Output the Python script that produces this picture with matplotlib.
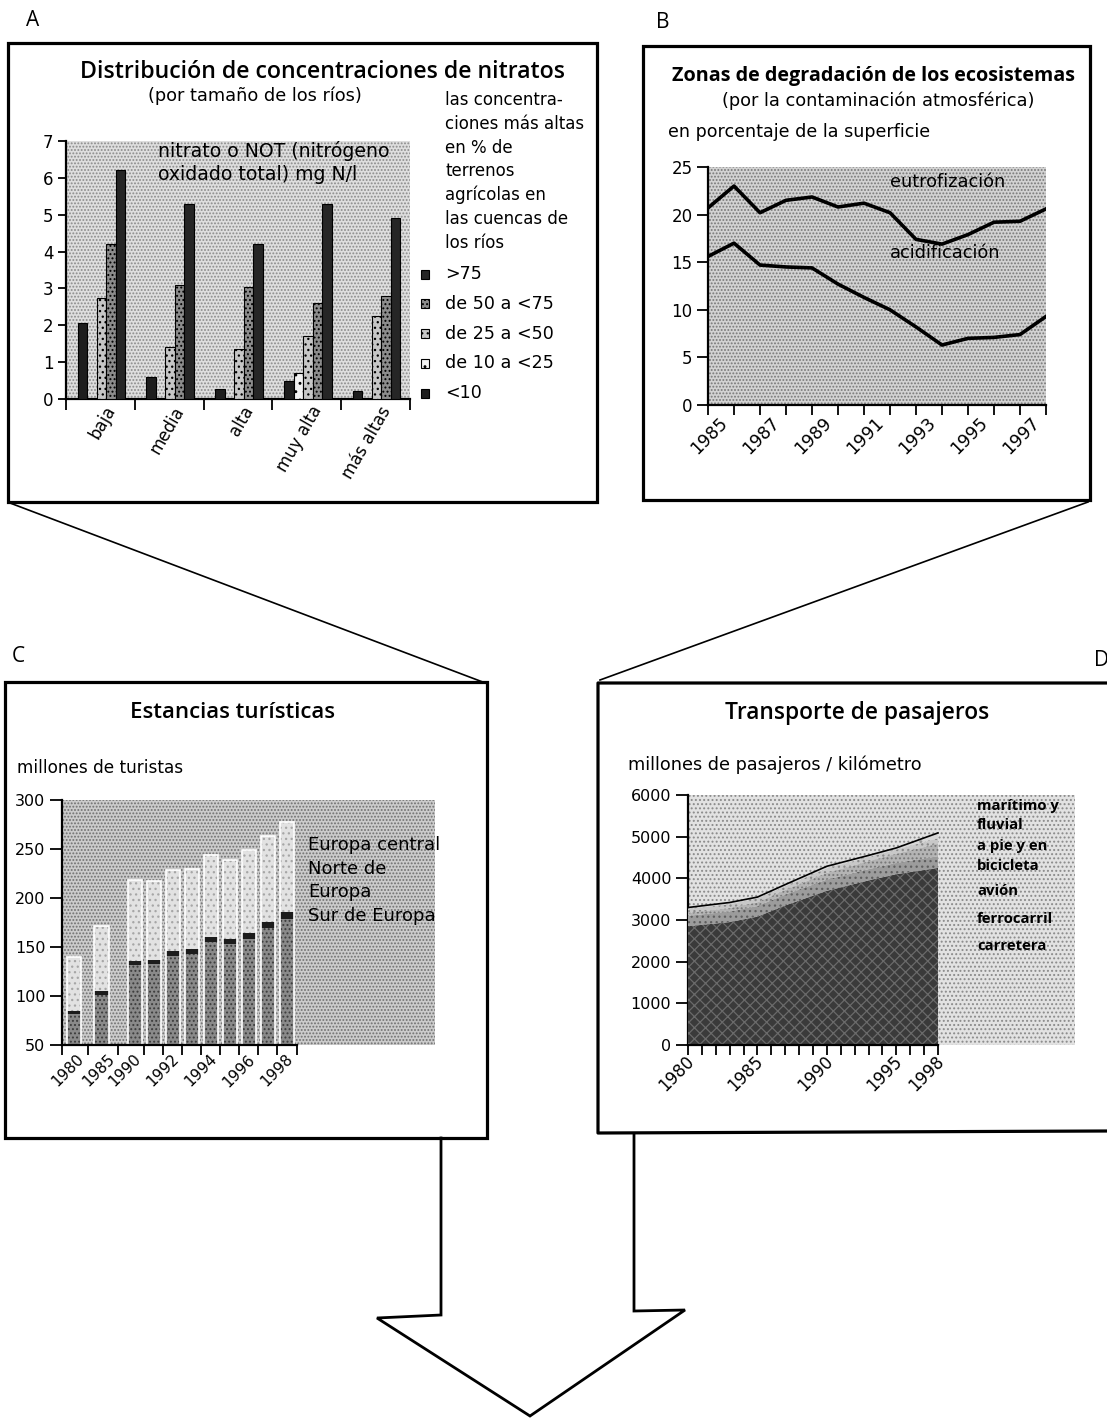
import numpy as np
import matplotlib.pyplot as plt
from matplotlib.patches import Rectangle
from matplotlib.transforms import ScaledTranslation

plt.rcParams['font.family'] = ['DejaVu Sans']
plt.rcParams['hatch.linewidth'] = 0.9
plt.rcParams['hatch.color'] = '#808080'
TIT = ['Open Sans', 'DejaVu Sans']

W, H = 1107, 1418

# --- A: nitratos por tamaño de río
rios = ['baja', 'media', 'alta', 'muy alta', 'más altas']
clases = ['<10', 'de 10 a <25', 'de 25 a <50', 'de 50 a <75', '>75']
nit_lt10 = [2.05, 0.6, 0.28, 0.5, 0.22]
nit_10_25 = [np.nan, np.nan, np.nan, 0.7, np.nan]
nit_25_50 = [2.75, 1.4, 1.35, 1.7, 2.25]
nit_50_75 = [4.2, 3.1, 3.05, 2.6, 2.8]
nit_gt75 = [6.2, 5.3, 4.2, 5.3, 4.9]

# --- B: zonas de degradación
anos_b = list(range(1985, 1999))
eutrofizacion = [20.7, 23.0, 20.2, 21.5, 21.85, 20.8, 21.2, 20.2, 17.4, 16.9, 17.9, 19.2, 19.3, 20.6]
acidificacion = [15.6, 17.0, 14.7, 14.5, 14.4, 12.7, 11.3, 10.0, 8.2, 6.3, 7.0, 7.1, 7.4, 9.3]

# --- C: estancias turísticas (millones)
anos_c = ['1980', '1985', '1990', '1991', '1992', '1993', '1994', '1995', '1996', '1997', '1998']
sur_europa = [82, 101, 132, 133, 141, 143, 155, 153, 158, 169, 179]
norte_europa = [3, 4, 4, 4, 5, 5, 5, 5, 6, 6, 7]
europa_central = [55, 66, 82, 80, 83, 82, 84, 81, 85, 88, 92]

# --- D: transporte de pasajeros
anos_d = [1980, 1983, 1985, 1987, 1990, 1993, 1995, 1998]
carretera = [2850, 2950, 3080, 3350, 3700, 3950, 4100, 4250]
ferrocarril = [250, 255, 255, 260, 270, 270, 270, 280]
avion = [70, 80, 90, 110, 160, 190, 220, 300]
a_pie = [95, 95, 90, 90, 110, 100, 100, 130]
maritimo = [35, 40, 35, 40, 50, 40, 40, 130]

fig = plt.figure(figsize=(W / 100, H / 100), dpi=100)


def px_axes(x0, y0, x1, y1):
    return fig.add_axes([x0 / W, 1 - y1 / H, (x1 - x0) / W, (y1 - y0) / H])


def stipple(ax, face='#d6d6d6', dots='#7f7f7f', hatch='.....'):
    ax.set_facecolor(face)
    ax.patch.set_hatch(hatch)
    ax.patch.set_edgecolor(dots)
    ax.patch.set_linewidth(0)


def style_axes(ax):
    for s in ['top', 'right']:
        ax.spines[s].set_visible(False)
    for s in ['left', 'bottom']:
        ax.spines[s].set_linewidth(1.6)
    ax.tick_params(direction='out', length=6, width=1.3, labelsize=11.5, pad=3)


def shift_xlabels(ax, dx, dy, which='major'):
    off = ScaledTranslation(dx / 100, -dy / 100, fig.dpi_scale_trans)
    labs = ax.get_xticklabels(minor=(which == 'minor'))
    for lab in labs:
        lab.set_transform(lab.get_transform() + off)


# ---------------- A
axA = px_axes(66, 141, 410, 399)
stipple(axA, face='#dedede', dots='#8a8a8a')
style_axes(axA)
series_a = [nit_lt10, nit_10_25, nit_25_50, nit_50_75, nit_gt75]
cols_a = ['#1e1e1e', '#f2f2f2', '#c6c6c6', '#8c8c8c', '#262626']
hat_a = [None, '..', '...', '....', None]
bw = 0.138
for k, vals in enumerate(series_a):
    xs = np.arange(len(rios)) + 0.17 + bw * (k + 0.5)
    axA.bar(xs, vals, bw, color=cols_a[k], edgecolor='black', linewidth=0.8,
            hatch=hat_a[k], zorder=3)
axA.set_xlim(0, 5)
axA.set_ylim(0, 7)
axA.set_yticks(range(0, 8))
axA.set_xticks(range(0, 6))
axA.set_xticklabels([])
axA.set_xticks(np.arange(5) + 0.66, minor=True)
axA.set_xticklabels(rios, minor=True, rotation=60, ha='right', va='center',
                    rotation_mode='anchor', fontsize=12)
axA.tick_params(axis='x', which='minor', length=0, pad=6)
axA.tick_params(axis='x', which='major', length=8)
axA.tick_params(axis='y', labelsize=12)

# ---------------- B
axB = px_axes(708, 167, 1046, 405)
stipple(axB, face='#d2d2d2', dots='#777777')
style_axes(axB)
axB.plot(anos_b, eutrofizacion, color='black', lw=2.6, zorder=3)
axB.plot(anos_b, acidificacion, color='black', lw=2.6, zorder=3)
axB.set_xlim(1985, 1998)
axB.set_ylim(0, 25)
axB.set_yticks(range(0, 26, 5))
axB.set_xticks(anos_b)
axB.set_xticklabels([str(a) if a % 2 == 1 else '' for a in anos_b],
                    rotation=45, ha='right', va='center', rotation_mode='anchor', fontsize=12.5)
axB.tick_params(axis='x', length=7, pad=2)
axB.tick_params(axis='y', length=8, labelsize=12)
shift_xlabels(axB, 17, 3)

# ---------------- C
pos_c = [0, 1.47, 3.21, 4.21, 5.21, 6.21, 7.21, 8.21, 9.21, 10.21, 11.21]
axC = px_axes(62, 800, 435, 1045)
stipple(axC, face='#cbcbcb', dots='#6f6f6f')
style_axes(axC)
sur = np.array(sur_europa)
norte = np.array(norte_europa)
cent = np.array(europa_central)
axC.bar(pos_c, sur, 0.78, color='#8a8a8a', hatch='....', edgecolor='#3c3c3c', linewidth=0, zorder=3)
axC.bar(pos_c, norte, 0.78, bottom=sur, color='#1c1c1c', linewidth=0, zorder=3)
axC.bar(pos_c, cent, 0.78, bottom=sur + norte, color='#e2e2e2', hatch='...',
        edgecolor='#a6a6a6', linewidth=0, zorder=3)
axC.bar(pos_c, sur + norte + cent, 0.78, fill=False, edgecolor='white', linewidth=1.2, zorder=4)
x_left = -0.63
bounds = [x_left] + [(pos_c[i] + pos_c[i + 1]) / 2 for i in range(len(pos_c) - 1)] + [11.74]
tick_lab = ['', '1980', '1985', '1990', '', '1992', '', '1994', '', '1996', '', '1998']
axC.set_xlim(x_left, x_left + (435 - 62) / 19.0)
axC.set_ylim(50, 300)
axC.spines['bottom'].set_bounds(x_left, 11.74)
axC.spines['bottom'].set_zorder(5)
axC.set_yticks(range(50, 301, 50))
axC.set_xticks(bounds)
axC.set_xticklabels(tick_lab, rotation=45, ha='right', va='center',
                    rotation_mode='anchor', fontsize=11)
axC.tick_params(axis='y', labelsize=11.5, length=9)
axC.tick_params(axis='x', length=7, pad=3)
shift_xlabels(axC, -6, -2)

# ---------------- D
axD = px_axes(688, 795, 1075, 1045)
stipple(axD, face='#e2e2e2', dots='#8a8a8a', hatch='....')
style_axes(axD)
capas = [carretera, ferrocarril, avion, a_pie, maritimo]
cols_d = ['#3a3a3a', '#9c9c9c', '#b4b4b4', '#c8c8c8', '#d8d8d8']
hat_d = ['xxx', '...', '....', '...', '..']
hcol_d = ['#6a6a6a', '#5e5e5e', '#777777', '#8a8a8a', '#9a9a9a']
base = np.zeros(len(anos_d))
for vals, c, h, hc in zip(capas, cols_d, hat_d, hcol_d):
    top = base + np.array(vals)
    axD.fill_between(anos_d, base, top, facecolor=c, hatch=h, edgecolor=hc,
                     linewidth=0, zorder=3)
    base = top
axD.plot(anos_d, base, color='black', lw=1.2, zorder=4)
axD.set_xlim(1980, 1980 + (1075 - 688) / (250 / 18))
axD.set_ylim(0, 6000)
axD.spines['bottom'].set_bounds(1980, 1998)
axD.spines['bottom'].set_zorder(5)
axD.set_yticks(range(0, 6001, 1000))
axD.set_xticks(range(1980, 1999))
axD.set_xticklabels([str(a) if a in (1980, 1985, 1990, 1995, 1998) else ''
                     for a in range(1980, 1999)],
                    rotation=45, ha='right', va='center', rotation_mode='anchor', fontsize=12)
axD.tick_params(axis='x', length=7, pad=4)
axD.tick_params(axis='y', length=9, labelsize=11.5)
shift_xlabels(axD, 3, -2)

# ---------------- overlay: boxes, lines, arrow, texts
ov = fig.add_axes([0, 0, 1, 1], zorder=10)
ov.set_xlim(0, W)
ov.set_ylim(H, 0)
ov.axis('off')

box_kw = dict(fill=False, edgecolor='black', linewidth=2.3)
ov.add_patch(Rectangle((8, 43), 589, 459, **box_kw))
ov.add_patch(Rectangle((643, 46), 447, 454, **box_kw))
ov.add_patch(Rectangle((5, 682), 482, 456, **box_kw))
ov.plot([1107, 598, 598, 1107], [683, 683, 1133, 1131], color='black', lw=2.3)

ov.plot([10, 488], [503, 684], color='black', lw=1.2)
ov.plot([1088, 600], [502, 680], color='black', lw=1.2)
ov.plot([441, 441, 377, 530, 685, 634, 634], [1138, 1315, 1318, 1416, 1310, 1311, 1134],
        color='black', lw=2.0, solid_joinstyle='miter')

for letra, x, y in [('A', 33, 20), ('B', 663, 22), ('C', 18, 657), ('D', 1094, 660)]:
    ov.text(x, y, letra, fontsize=15, family=TIT, ha='center' if letra != 'D' else 'left',
            va='center')

# A texts
ov.text(323, 72, 'Distribución de concentraciones de nitratos', fontsize=16.7, family=TIT,
        fontweight='semibold', ha='center', va='center')
ov.text(255, 96, '(por tamaño de los ríos)', fontsize=12.8, ha='center', va='center')
for i, linea in enumerate(['las concentra-', 'ciones más altas', 'en % de', 'terrenos',
                           'agrícolas en', 'las cuencas de', 'los ríos']):
    ov.text(445, 100 + 23.8 * i, linea, fontsize=12, ha='left', va='center')
ov.text(158, 151, 'nitrato o NOT (nitrógeno', fontsize=13.6, ha='left', va='center')
ov.text(158, 174, 'oxidado total) mg N/l', fontsize=13.6, ha='left', va='center')
for i, k in enumerate([4, 3, 2, 1, 0]):
    y = 274 + 29.8 * i
    ov.add_patch(Rectangle((421, y - 4.5), 8, 9, facecolor=cols_a[k], edgecolor='black',
                           linewidth=0.8, hatch=hat_a[k]))
    ov.text(445, y, clases[k], fontsize=12.6, ha='left', va='center')

# B texts
ov.text(874, 76, 'Zonas de degradación de los ecosistemas', fontsize=14.2, family=TIT,
        fontweight='bold', ha='center', va='center')
ov.text(878, 101, '(por la contaminación atmosférica)', fontsize=12.8, ha='center', va='center')
ov.text(668, 132, 'en porcentaje de la superficie', fontsize=12.6, ha='left', va='center')
ov.text(890, 182, 'eutrofización', fontsize=12.8, ha='left', va='center')
ov.text(890, 253, 'acidificación', fontsize=12.8, ha='left', va='center')

# C texts
ov.text(233, 712, 'Estancias turísticas', fontsize=16, family=TIT, fontweight='semibold',
        ha='center', va='center')
ov.text(17, 768, 'millones de turistas', fontsize=12.2, ha='left', va='center')
for linea, y in [('Europa central', 845), ('Norte de', 869), ('Europa', 892),
                 ('Sur de Europa', 916)]:
    ov.text(308, y, linea, fontsize=13, ha='left', va='center')

# D texts
ov.text(857, 713, 'Transporte de pasajeros', fontsize=16.4, family=TIT, fontweight='semibold',
        ha='center', va='center')
ov.text(628, 765, 'millones de pasajeros / kilómetro', fontsize=12.7, ha='left', va='center')
for linea, y in [('marítimo y', 806), ('fluvial', 825), ('a pie y en', 846), ('bicicleta', 866),
                 ('avión', 891), ('ferrocarril', 919), ('carretera', 946)]:
    ov.text(977, y, linea, fontsize=10.7, family=TIT, fontweight='bold', ha='left', va='center')

fig.savefig('out.png', dpi=100)
